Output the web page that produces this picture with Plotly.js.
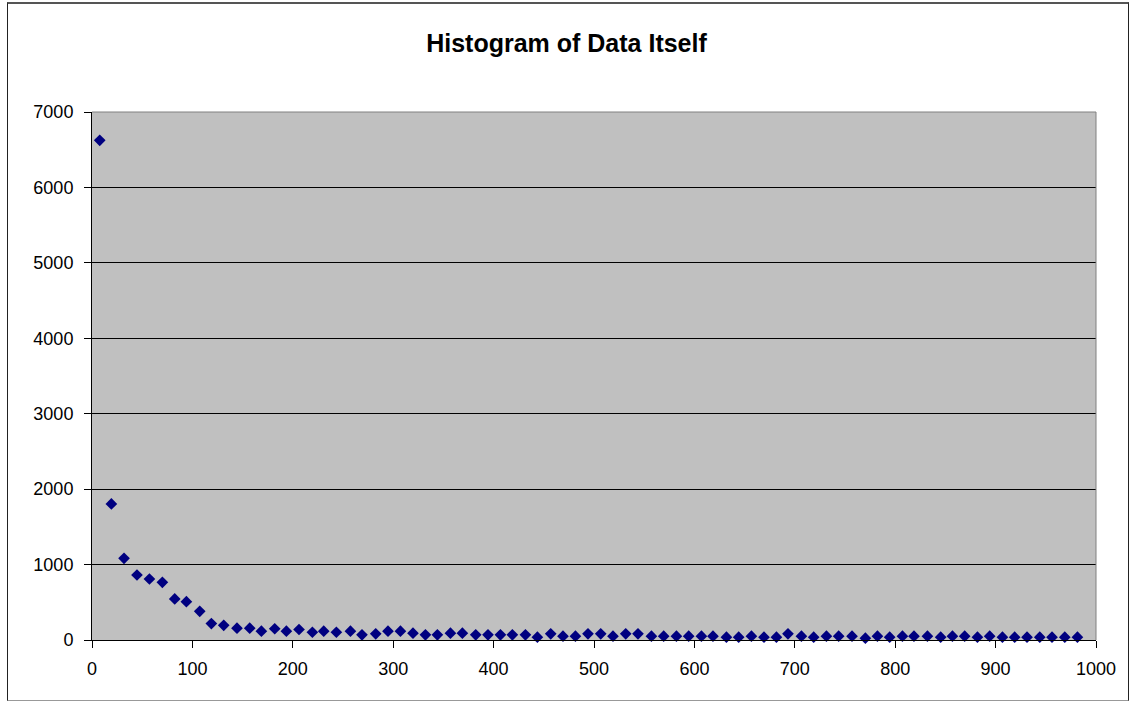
<!DOCTYPE html>
<html>
<head>
<meta charset="utf-8">
<script src="https://cdn.plot.ly/plotly-3.0.1.min.js"></script>
<style>
  html, body { margin: 0; padding: 0; background: #fff; }
  #wrap { position: relative; width: 1133px; height: 702px; }
  #chart { position: absolute; left: 0; top: 0; width: 1133px; height: 702px; }
  #frame { position: absolute; left: 7px; top: 2px; width: 1120px; height: 696px;
           border: 1px solid #222; border-top: 2px solid #555; border-bottom: 1px solid #999;
           pointer-events: none; }
</style>
</head>
<body>
<div id="wrap">
  <div id="chart"></div>
  <div id="frame"></div>
</div>
<script>
// Bin positions (x)
const binX = [7.7, 19.3, 31.9, 44.8, 57.2, 70.1, 82.4, 94.0, 107.3, 118.9,
  131.2, 144.4, 157.1, 168.7, 182.0, 193.6, 206.2, 219.5, 230.8, 243.4,
  257.4, 268.9, 282.6, 294.8, 307.2, 319.7, 332.1, 344.0, 357.0, 368.9,
  382.2, 394.4, 406.8, 418.7, 431.7, 443.6, 456.9, 469.1, 481.5, 494.0,
  506.7, 518.9, 531.6, 543.8, 557.2, 569.4, 582.1, 594.3, 607.0, 618.5,
  631.9, 644.1, 656.8, 669.3, 681.7, 693.2, 706.6, 718.8, 731.5, 743.7,
  757.0, 770.3, 782.3, 794.5, 807.2, 818.7, 832.1, 845.3, 857.0, 869.2,
  881.9, 894.1, 906.8, 919.0, 931.3, 944.0, 956.2, 968.9, 981.5];

// Counts (y)
const counts = [6624, 1804, 1083, 862, 809, 765, 544, 508, 380, 218,
  195, 157, 157, 117, 149, 117, 139, 103, 117, 103,
  117, 69, 82, 117, 117, 90, 69, 69, 90, 90,
  69, 69, 69, 69, 69, 37, 82, 51, 51, 82,
  82, 51, 82, 82, 51, 51, 51, 51, 51, 51,
  37, 37, 51, 37, 37, 82, 51, 37, 51, 51,
  51, 24, 51, 37, 51, 51, 51, 37, 51, 51,
  37, 51, 37, 37, 37, 37, 37, 37, 37];

const xTicks = [0, 100, 200, 300, 400, 500, 600, 700, 800, 900, 1000];
const yTicks = [0, 1000, 2000, 3000, 4000, 5000, 6000, 7000];
const chartTitle = "Histogram of Data Itself";

const trace = {
  type: "scatter",
  mode: "markers",
  x: binX,
  y: counts,
  cliponaxis: false,
  marker: { symbol: "diamond", size: 9, color: "#000080", line: { width: 0 } },
  hoverinfo: "x+y"
};

const tickFont = { family: "Liberation Sans, Arial, sans-serif", size: 18, color: "#000" };

const layout = {
  width: 1133,
  height: 702,
  margin: { l: 92, r: 37, t: 112, b: 62 },
  paper_bgcolor: "#ffffff",
  plot_bgcolor: "#c0c0c0",
  showlegend: false,
  title: {
    text: "<b>" + chartTitle + "</b>",
    font: { family: "Liberation Sans, Arial, sans-serif", size: 25, color: "#000" },
    xref: "container", x: 0.5, xanchor: "center",
    yref: "container", y: 1 - 43 / 702, yanchor: "middle"
  },
  xaxis: {
    range: [0, 1000],
    tickvals: xTicks,
    ticktext: xTicks.map(String),
    showgrid: false,
    zeroline: false,
    showline: true, linecolor: "#000", linewidth: 1,
    ticks: "outside", ticklen: 7, tickcolor: "#000", tickwidth: 1,
    ticklabelstandoff: 5,
    tickfont: tickFont
  },
  yaxis: {
    range: [0, 7000],
    tickvals: yTicks,
    ticktext: yTicks.map(String),
    showgrid: true, gridcolor: "#000", gridwidth: 1,
    zeroline: false,
    showline: true, linecolor: "#000", linewidth: 1,
    ticks: "outside", ticklen: 7, tickcolor: "#000", tickwidth: 1,
    ticklabelstandoff: 7,
    tickfont: tickFont
  },
  shapes: [
    { type: "line", xref: "paper", yref: "paper", x0: 0, x1: 1, y0: 1, y1: 1,
      line: { color: "#808080", width: 1 }, layer: "above" },
    { type: "line", xref: "paper", yref: "paper", x0: 1, x1: 1, y0: 0, y1: 1,
      line: { color: "#808080", width: 1 }, layer: "above" }
  ]
};

Plotly.newPlot("chart", [trace], layout, { displayModeBar: false, staticPlot: true });
</script>
</body>
</html>
